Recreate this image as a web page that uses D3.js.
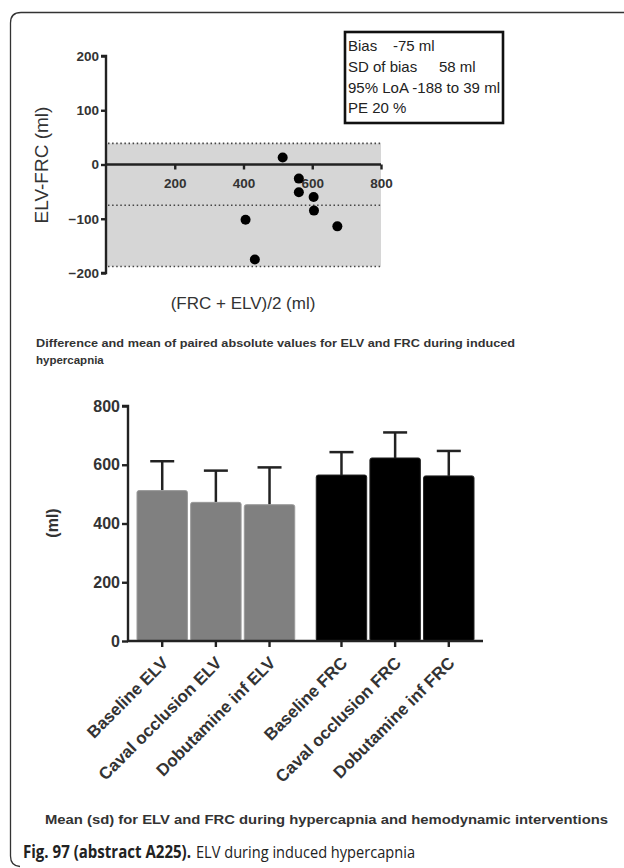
<!DOCTYPE html>
<html><head><meta charset="utf-8">
<script src="https://cdn.jsdelivr.net/npm/d3@7"></script>
<style>
html,body{margin:0;padding:0;background:#fff;}
svg{display:block;font-family:"Liberation Sans",Arial,sans-serif;}
</style></head>
<body>
<svg id="c" width="624" height="868"></svg>
<script>
// ---- Data: Bland-Altman scatter ----
const baMean = [514, 561, 561, 604, 605, 673, 406, 433];
const baDiff = [13, -26, -51, -60, -85, -114, -102, -175];
const bias = -75, loaUpper = 39, loaLower = -188;
const baXTicks = [200, 400, 600, 800];
const baYTicks = [200, 100, 0, -100, -200];
const legendLines = [["Bias", "-75 ml"], ["SD of bias", "58 ml"], ["95% LoA -188 to 39 ml", ""], ["PE 20 %", ""]];

// ---- Data: bar chart ----
const groups = ["ELV", "FRC"];
const conditions = ["Baseline", "Caval occlusion", "Dobutamine inf"];
const barLabels = ["Baseline ELV", "Caval occlusion ELV", "Dobutamine inf ELV", "Baseline FRC", "Caval occlusion FRC", "Dobutamine inf FRC"];
const barMeans = [512, 472, 464, 565, 623, 562];
const barSD = [100, 108, 127, 78, 87, 85];
const barYTicks = [0, 200, 400, 600, 800];

const svg = d3.select("#c");

// outer frame
svg.append("path")
  .attr("d", "M 640 12.5 L 21 12.5 Q 10.5 12.5 10.5 23 L 10.5 856 Q 10.5 866 20 866.5")
  .attr("fill", "none").attr("stroke", "#333").attr("stroke-width", 1.3);

// ===== Top chart =====
const xA = d3.scaleLinear().domain([0, 800]).range([106, 381]);
const yA = d3.scaleLinear().domain([-200, 200]).range([273, 56]);
const gTop = svg.append("g");

gTop.append("rect")
  .attr("x", xA(0)).attr("width", xA(800) - xA(0))
  .attr("y", yA(loaUpper)).attr("height", yA(loaLower) - yA(loaUpper))
  .attr("fill", "#d6d6d6");

[loaUpper, bias, loaLower].forEach(v => {
  gTop.append("line").attr("x1", xA(0) + 2).attr("x2", xA(800))
    .attr("y1", yA(v)).attr("y2", yA(v))
    .attr("stroke", "#444").attr("stroke-width", 1.6)
    .attr("stroke-dasharray", "1.5,2.6");
});

const yAxisA = d3.axisLeft(yA).tickValues(baYTicks).tickSize(5).tickPadding(2).tickFormat(d3.format("d"));
const gyA = gTop.append("g").attr("transform", `translate(${xA(0)},0)`).call(yAxisA);
gyA.select(".domain").attr("stroke", "#222").attr("stroke-width", 2.4).attr("d", `M-5,${yA(200)}H0V${yA(-200)}H-5`);
gyA.selectAll(".tick line").attr("stroke", "#222").attr("stroke-width", 2.4);
gyA.selectAll(".tick text").style("font-size", "13.5px").style("font-weight", "bold").attr("fill", "#333")
  .style("font-family", "Liberation Sans, Arial, sans-serif");

const xAxisA = d3.axisBottom(xA).tickValues(baXTicks).tickSize(5).tickPadding(9).tickFormat(d3.format("d"));
const gxA = gTop.append("g").attr("transform", `translate(0,${yA(0)})`).call(xAxisA);
gxA.select(".domain").attr("stroke", "#222").attr("stroke-width", 2.4).attr("d", `M${xA(0)},0H${xA(800)}`);
gxA.selectAll(".tick line").attr("stroke", "#222").attr("stroke-width", 2.4);
gxA.selectAll(".tick text").style("font-size", "13.5px").style("font-weight", "bold").attr("fill", "#333")
  .style("font-family", "Liberation Sans, Arial, sans-serif");

gTop.selectAll("circle.pt").data(baMean).enter().append("circle")
  .attr("class", "pt")
  .attr("cx", d => xA(d)).attr("cy", (d, i) => yA(baDiff[i]))
  .attr("r", 5).attr("fill", "#000");

gTop.append("text").attr("transform", `translate(48,165) rotate(-90)`)
  .attr("text-anchor", "middle").style("font-size", "19px").attr("fill", "#333")
  .text("ELV-FRC (ml)");

gTop.append("text").attr("x", 243).attr("y", 309)
  .attr("text-anchor", "middle").style("font-size", "17px").attr("fill", "#333")
  .text("(FRC + ELV)/2 (ml)");

// legend box
gTop.append("rect").attr("x", 345).attr("y", 32).attr("width", 158).attr("height", 91)
  .attr("fill", "#fff").attr("stroke", "#111").attr("stroke-width", 2.6);
const legY = [51, 72, 93, 113];
legendLines.forEach((l, i) => {
  const t = gTop.append("text").attr("x", 348).attr("y", legY[i]).style("font-size", "15px").attr("fill", "#222").text(l[0]);
  if (i === 2) t.attr("textLength", 152).attr("lengthAdjust", "spacingAndGlyphs");
  if (l[1]) gTop.append("text").attr("x", i === 0 ? 393 : 439).attr("y", legY[i]).style("font-size", "15px").attr("fill", "#222").text(l[1]);
});

gTop.append("text").attr("x", 36).attr("y", 347).style("font-size", "11.5px").style("font-weight", "bold").attr("fill", "#333")
  .attr("textLength", 479).attr("lengthAdjust", "spacingAndGlyphs")
  .text("Difference and mean of paired absolute values for ELV and FRC during induced");
gTop.append("text").attr("x", 36).attr("y", 364).style("font-size", "11.5px").style("font-weight", "bold").attr("fill", "#333")
  .text("hypercapnia");

// ===== Bottom chart =====
const x0 = d3.scaleBand().domain(groups).range([137, 474]).paddingInner(0.12);
const x1 = d3.scaleBand().domain(conditions).range([0, x0.bandwidth()]).paddingInner(0.06);
const yB = d3.scaleLinear().domain([0, 800]).range([641, 406]);
const bot = svg.append("g");
const barData = barMeans.map((m, i) => ({ m, sd: barSD[i], g: groups[Math.floor(i / 3)], c: conditions[i % 3], label: barLabels[i] }));
const bx = d => x0(d.g) + x1(d.c);
const bcx = d => bx(d) + x1.bandwidth() / 2;

// error bars
const eb = bot.selectAll("g.eb").data(barData).enter().append("g");
eb.append("line").attr("x1", bcx).attr("x2", bcx).attr("y1", d => yB(d.m)).attr("y2", d => yB(d.m + d.sd))
  .attr("stroke", "#222").attr("stroke-width", 2.5);
eb.append("line").attr("x1", d => bcx(d) - 12).attr("x2", d => bcx(d) + 12)
  .attr("y1", d => yB(d.m + d.sd)).attr("y2", d => yB(d.m + d.sd))
  .attr("stroke", "#222").attr("stroke-width", 2.5);

bot.selectAll("rect.bar").data(barData).enter().append("rect")
  .attr("class", "bar")
  .attr("x", bx).attr("width", x1.bandwidth())
  .attr("y", d => yB(d.m)).attr("height", d => yB(0) - yB(d.m))
  .attr("rx", 2)
  .attr("fill", d => d.g === "ELV" ? "#808080" : "#000")
  .attr("stroke", d => d.g === "ELV" ? "#9a9a9a" : "#222").attr("stroke-width", 1);

const yAxisB = d3.axisLeft(yB).tickValues(barYTicks).tickSize(6).tickPadding(2).tickFormat(d3.format("d"));
const gyB = bot.append("g").attr("transform", "translate(128,0)").call(yAxisB);
gyB.select(".domain").attr("stroke", "#222").attr("stroke-width", 2.4).attr("d", `M-6,${yB(800)}H0V${yB(0)}`);
gyB.selectAll(".tick line").attr("stroke", "#222").attr("stroke-width", 2.4);
gyB.selectAll(".tick text").style("font-size", "16px").style("font-weight", "bold").attr("fill", "#333")
  .style("font-family", "Liberation Sans, Arial, sans-serif");

// x axis
bot.append("line").attr("x1", 127).attr("x2", 483).attr("y1", yB(0)).attr("y2", yB(0))
  .attr("stroke", "#222").attr("stroke-width", 2.4);
bot.selectAll("line.xt").data(barData).enter().append("line")
  .attr("x1", bcx).attr("x2", bcx).attr("y1", yB(0)).attr("y2", yB(0) + 6)
  .attr("stroke", "#222").attr("stroke-width", 2.4);
bot.selectAll("text.xl").data(barData).enter().append("text")
  .attr("transform", d => `translate(${bcx(d) + 7},${yB(0) + 23}) rotate(-45)`)
  .attr("text-anchor", "end").style("font-size", "17px").style("font-weight", "bold").attr("fill", "#333")
  .text(d => d.label);

bot.append("text").attr("transform", "translate(58,523) rotate(-90)")
  .attr("text-anchor", "middle").style("font-size", "16px").style("font-weight", "bold").attr("fill", "#333")
  .text("(ml)");

bot.append("text").attr("x", 45).attr("y", 824).style("font-size", "12px").style("font-weight", "bold").attr("fill", "#333")
  .attr("textLength", 563).attr("lengthAdjust", "spacingAndGlyphs")
  .text("Mean (sd) for ELV and FRC during hypercapnia and hemodynamic interventions");

// caption (two separate texts: bold label + regular title)
svg.append("text").attr("x", 23).attr("y", 858)
  .style("font-size", "17px").style("font-family", "'Open Sans', 'Noto Sans', sans-serif").style("font-weight", "bold")
  .attr("fill", "#222").attr("textLength", 168).attr("lengthAdjust", "spacingAndGlyphs")
  .text("Fig. 97 (abstract A225).");
svg.append("text").attr("x", 196).attr("y", 858)
  .style("font-size", "17px").style("font-family", "'Open Sans', 'Noto Sans', sans-serif").style("font-weight", "normal")
  .attr("fill", "#222").attr("textLength", 219).attr("lengthAdjust", "spacingAndGlyphs")
  .text("ELV during induced hypercapnia");
</script>
</body></html>
